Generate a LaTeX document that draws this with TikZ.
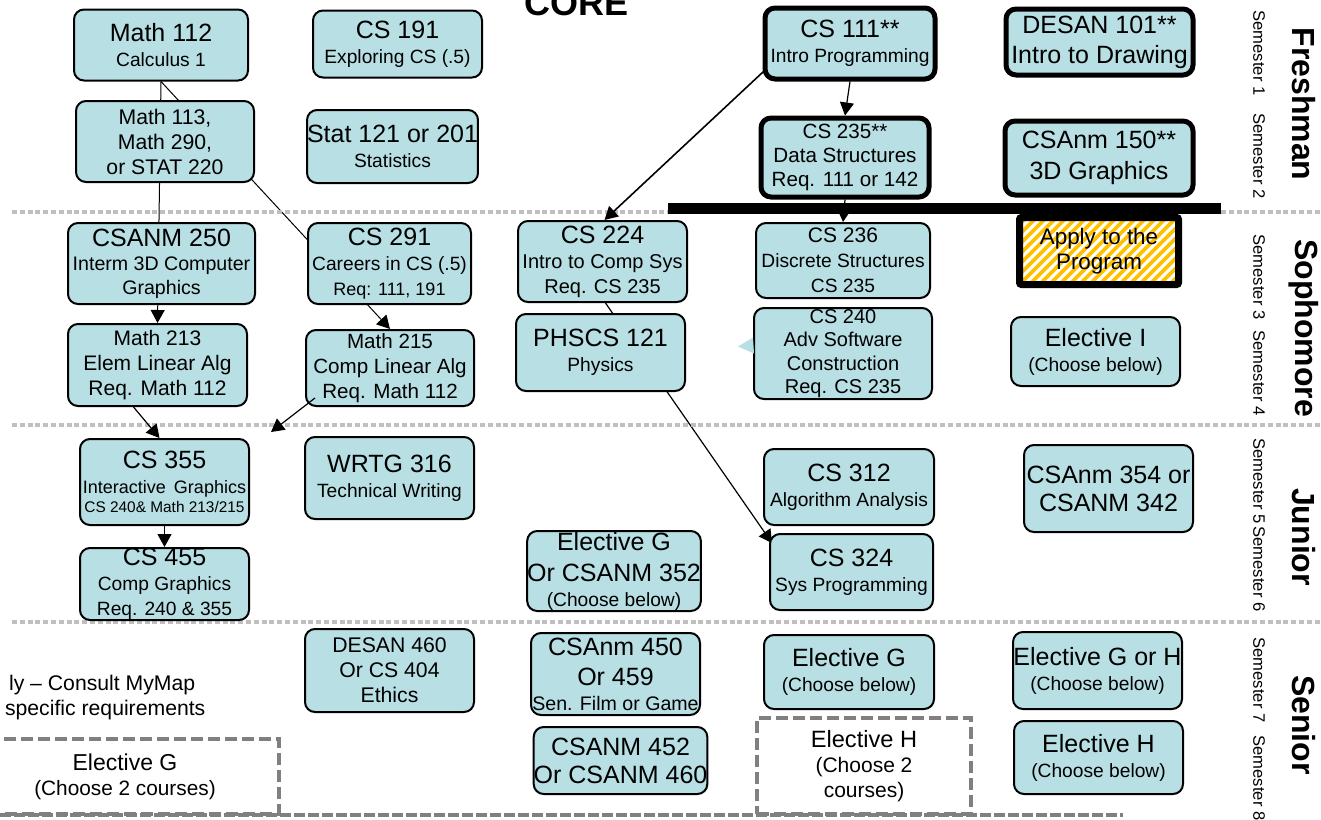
\documentclass[tikz,border=0pt]{standalone}
\usepackage{fontspec}
\setmainfont{Liberation Sans}
\usetikzlibrary{arrows.meta,calc,backgrounds}
\definecolor{boxteal}{RGB}{184,223,227}
\definecolor{hatchgold}{RGB}{255,192,0}
\colorlet{sepgray}{black!25}
\colorlet{elecgray}{black!50}
\newcommand{\cname}[1]{{\fontsize{12.5}{15}\selectfont #1}}
\tikzset{
    course/.style={draw,fill=boxteal,rounded corners=5pt,line width=1pt,align=center,inner sep=0pt,font=\fontsize{9.6}{12.5}\selectfont},
    core/.style={course,line width=2.5pt},
    elecbox/.style={draw=elecgray,line width=2pt,dash pattern=on 6pt off 2.5pt,align=center,inner sep=0pt,font=\fontsize{10.5}{12.5}\selectfont},
    sz/.style 2 args={minimum width=#1*0.5pt-1pt,minimum height=#2*0.5pt-1pt},
    sem/.style={rotate=-90,font=\fontsize{8.3}{10}\selectfont},
    yearlbl/.style={rotate=-90,font=\bfseries\fontsize{16}{19}\selectfont},
    sepline/.style={sepgray,line width=2pt,dash pattern=on 2.5pt off 1.4pt},
    prereq/.style={-{Triangle[length=6.5pt,width=7pt]},line width=0.6pt},
    stripe/.style={hatchgold,line width=1.8pt}
}

\begin{document}
\begin{tikzpicture}[x=0.5pt,y=-0.5pt]
    \useasboundingbox (0,0) rectangle (1321,819);
    \foreach \y in {212,425,622}
        \draw[sepline] (12,\y) -- (1321,\y);
    \draw[elecgray,line width=2pt,dash pattern=on 5.5pt off 1.5pt] (0,815) -- (1123,815);
    \fill (668,203) rectangle (1221,214);

    \node[font=\bfseries\fontsize{18}{18}\selectfont,anchor=base west] (core) at (517,15) {CORE};

    \node[course,sz={176}{73}] (m112) at (161,45) {\cname{Math 112}\\Calculus 1};
    \node[course,sz={180}{83},font=\fontsize{10.6}{12.5}\selectfont] (m113) at (165,141.5) {Math 113,\\Math 290,\\or STAT 220};
    \node[course,sz={189}{83},font=\fontsize{9.8}{12}\selectfont] (csanm250) at (161.5,263.5) {\cname{CSANM 250}\\Interm 3D Computer\\Graphics};
    \node[course,sz={181}{84},font=\fontsize{10.5}{12.5}\selectfont] (m213) at (157.5,365) {Math 213\\Elem Linear Alg\\Req. Math 112};
    \node[course,sz={171}{88}] (cs355) at (164.5,482) {\cname{CS 355}\\{\fontsize{9}{11}\selectfont Interactive\, Graphics}\\[-3pt]{\fontsize{7.7}{9}\selectfont CS 240\& Math 213/215}};
    \node[course,sz={171}{74}] (cs455) at (164.5,584) {\cname{CS 455}\\Comp Graphics\\Req. 240 \& 355};

    \node[course,sz={171}{69}] (cs191) at (397.5,44) {\cname{CS 191}\\Exploring CS (.5)};
    \node[course,sz={165}{75}] (stat) at (392.5,146.5) {\cname{Stat 121 or 201}\\Statistics};
    \node[course,sz={165}{83}] (cs291) at (389.5,263.5) {\cname{CS 291}\\Careers in CS (.5)\\{\fontsize{9}{11}\selectfont Req: 111, 191}};
    \node[course,sz={170}{78},font=\fontsize{10.3}{12.5}\selectfont] (m215) at (390,368) {Math 215\\Comp Linear Alg\\Req. Math 112};
    \node[course,sz={171}{84}] (wrtg) at (389.5,478) {\cname{WRTG 316}\\Technical Writing};
    \node[course,sz={171}{85},font=\fontsize{10.6}{12.5}\selectfont] (desan460) at (389.5,670.5) {DESAN 460\\Or CS 404\\Ethics};

    \node[course,sz={171}{83},font=\fontsize{10}{12.5}\selectfont] (cs224) at (602.5,261.5) {\cname{CS 224}\\Intro to Comp Sys\\Req. CS 235};
    \node[course,sz={171}{79}] (phscs) at (600.5,352.5) {\cname{PHSCS 121}\\Physics};
    \node[course,sz={170}{82}] (eg3) at (614,571) {\cname{Elective G}\\[3pt]\cname{Or CSANM 352}\\(Choose below)};
    \node[course,sz={171}{84},font=\fontsize{9.8}{12.5}\selectfont] (csanm450) at (615.5,674) {\cname{CSAnm 450}\\[2.5pt]\cname{Or 459}\\Sen. Film or Game};
    \node[course,sz={171}{69},font=\fontsize{12.5}{14}\selectfont] (csanm452) at (620.5,760.5) {CSANM 452\\Or CSANM 460};

    \node[core,sz={172}{73}] (cs111) at (850,43.5) {\cname{CS 111**}\\Intro Programming};
    \node[core,sz={170}{81},font=\fontsize{10.3}{12}\selectfont] (cs235) at (845,157.5) {CS 235**\\Data Structures\\Req. 111 or 142};
    \node[course,sz={176}{77}] (cs236) at (843,260.5) {{\fontsize{10.5}{12}\selectfont CS 236}\\Discrete Structures\\CS 235};
    \node[course,sz={180}{93},font=\fontsize{10}{11.7}\selectfont] (cs240) at (843,353.5) {CS 240\\Adv Software\\Construction\\Req. CS 235};
    \node[course,sz={172}{78}] (cs312) at (849,487) {\cname{CS 312}\\Algorithm Analysis};
    \node[course,sz={165}{78}] (cs324) at (851.5,572) {\cname{CS 324}\\Sys Programming};
    \node[course,sz={172}{76}] (eg4) at (849,672) {\cname{Elective G}\\(Choose below)};
    \node[elecbox,sz={216}{98}] (ehbox) at (864,766) {{\fontsize{11.8}{13}\selectfont Elective H}\\(Choose 2\\courses)};
    \node[elecbox,sz={310}{77},font=\fontsize{10.4}{12.5}\selectfont] (egbox) at (125,776.5) {{\fontsize{11.5}{13}\selectfont Elective G}\\(Choose 2 courses)};

    \node[core,sz={189}{68},font=\fontsize{12.5}{15}\selectfont] (desan101) at (1099.5,42) {DESAN 101**\\Intro to Drawing};
    \node[core,sz={190}{76},font=\fontsize{12.5}{15.5}\selectfont] (csanm150) at (1099,158) {CSAnm 150**\\3D Graphics};
    \node[draw,fill=white,line width=3.5pt,rounded corners=1pt,sz={161}{69},align=center,font=\fontsize{11.2}{12.5}\selectfont,
        path picture={\foreach \k in {0,...,26}
            \draw[stripe] ($(path picture bounding box.south west)+(\k*10-90,0)$) -- ++(90,-90);}] (apply) at (1099,251) {Apply to the\\Program};
    \node[course,sz={171}{71}] (ei) at (1095.5,351.5) {\cname{Elective I}\\(Choose below)};
    \node[course,sz={171}{89},font=\fontsize{12.5}{14}\selectfont] (csanm354) at (1108.5,488.5) {CSAnm 354 or\\CSANM 342};
    \node[course,sz={171}{79}] (egh) at (1097.5,670.5) {\cname{Elective G or H}\\(Choose below)};
    \node[course,sz={171}{75}] (eh5) at (1098.5,757.5) {\cname{Elective H}\\(Choose below)};

    \node[anchor=base west,font=\fontsize{10.6}{12}\selectfont] (note1) at (2,690) {ly – Consult MyMap};
    \node[anchor=base west,font=\fontsize{10.6}{12}\selectfont] (note2) at (-2,715) {specific requirements};

    \foreach \n/\y in {1/53,2/156,3/277,4/373,5/481,6/569,7/680,8/778}
        \node[sem] (sem\n) at (1259,\y) {Semester \n};
    \foreach \yr/\y in {Freshman/104,Sophomore/328,Junior/537,Senior/725}
        \node[yearlbl] (\yr) at (1304,\y) {\yr};

    \fill[boxteal] ($(cs240.west)+(0,-16)$) -- ($(cs240.west)+(-15,-7)$) -- ($(cs240.west)+(1,0)$) -- cycle;

    \begin{scope}[on background layer]
        \draw[prereq,line width=0.5pt] (m112.south) -- (m213.north);
        \draw[prereq,line width=0.5pt] (m112.south) -- (m215.north);
        \draw[prereq] ($(cs224.south)+(3,0)$) -- ($(cs324.north west)+(3,10)$);
        \draw[prereq] (cs235.south) -- (cs236.north);
    \end{scope}
    \draw[prereq] ($(m213.south)+(-24,0)$) -- ($(cs355.north)+(-5,0)$);
    \draw[prereq] ($(m215.south west)+(10,-9)$) -- ($(cs355.north east)+(21,-6)$);
    \draw[prereq] (cs355.south) -- (cs455.north);
    \draw[prereq] (cs111.south) -- (cs235.north);
    \draw[prereq,line width=0.8pt] ($(cs111.south west)+(1,-10)$) -- ($(cs224.north)+(2,0)$);
\end{tikzpicture}
\end{document}
